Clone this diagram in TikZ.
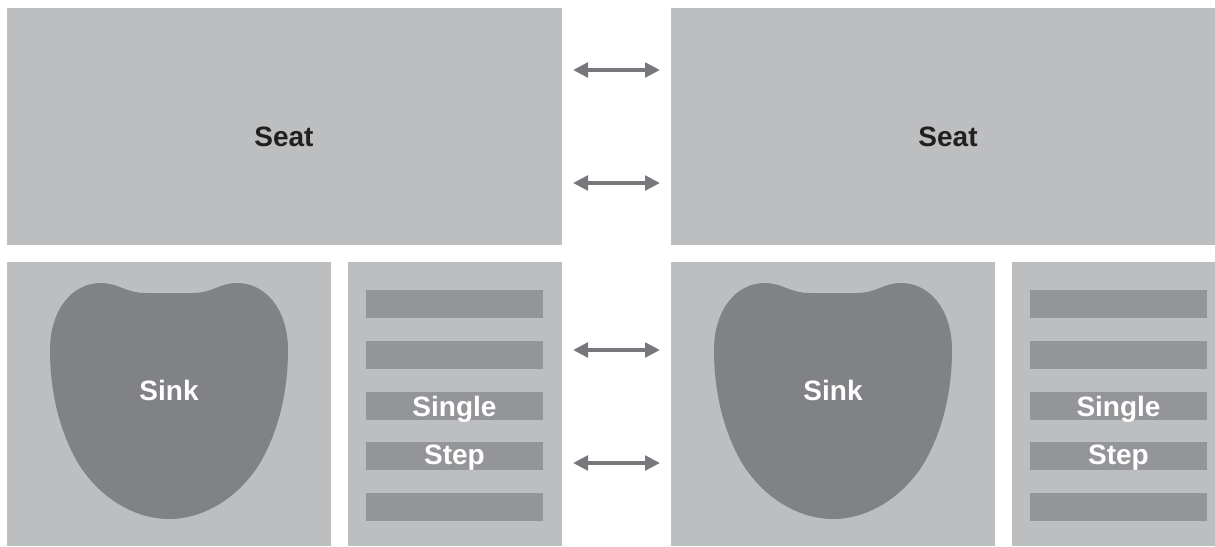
\documentclass[tikz,border=0pt]{standalone}
\usepackage{fontspec}
\setmainfont{Liberation Sans}
\usetikzlibrary{arrows.meta}
\definecolor{panelgray}{HTML}{BCBEC0}
\definecolor{sinkgray}{HTML}{808285}
\definecolor{bargray}{HTML}{939598}
\definecolor{arrowgray}{HTML}{77787B}
\definecolor{seattext}{HTML}{231F20}
\tikzset{
  panel/.style={fill=panelgray},
  barstrip/.style={fill=bargray},
  sinkshape/.style={fill=sinkgray},
  lbl/.style={font=\fontsize{28}{30}\selectfont\bfseries, inner sep=0pt, anchor=base},
  dblarrow/.style={draw=arrowgray, line width=4.6pt,
    {Triangle[length=15pt,width=14.5pt]}-{Triangle[length=15pt,width=14.5pt]}}
}
\begin{document}
\begin{tikzpicture}[x=1pt,y=-1pt]
\useasboundingbox (0,0) rectangle (1215,546);
\clip (0,0) rectangle (1215,546);
% seats
\fill[panel] (7,8) rectangle (562,245);
\fill[panel] (671,8) rectangle (1226,245);
\node[lbl, text=seattext] (seatL) at (284,146) {Seat};
\node[lbl, text=seattext] (seatR) at (948,146) {Seat};
% bottom halves
\foreach \s/\n in {0/L,664/R}{
  \begin{scope}[shift={(\s,0)}]
    \fill[panel] (7,262) rectangle (331,546);
    \fill[panel] (348,262) rectangle (562,546);
    \fill[sinkshape] (169,519) .. controls (133,519) and (98,496) .. (78,463)
      .. controls (61,434) and (50,395) .. (50,350)
      .. controls (50,310) and (72,283) .. (101,283)
      .. controls (118,283) and (126,293) .. (145,293)
      -- (193,293)
      .. controls (212,293) and (220,283) .. (237,283)
      .. controls (266,283) and (288,310) .. (288,350)
      .. controls (288,395) and (277,434) .. (260,463)
      .. controls (240,496) and (205,519) .. (169,519) -- cycle;
    \foreach \y in {290,341,392,442,493}{
      \fill[barstrip] (366,\y) rectangle (543,\y+28);
    }
    \node[lbl, text=white] (sink\n) at (169,400) {Sink};
    \node[lbl, text=white] (single\n) at (454.5,416) {Single};
    \node[lbl, text=white] (step\n) at (454.5,464) {Step};
  \end{scope}
}
% arrows
\foreach \y/\i in {70/a,183/b,350/c,463/d}{
  \coordinate (l\i) at (573,\y);
  \coordinate (r\i) at (660,\y);
  \draw[dblarrow] (l\i) -- (r\i);
}
\end{tikzpicture}
\end{document}
